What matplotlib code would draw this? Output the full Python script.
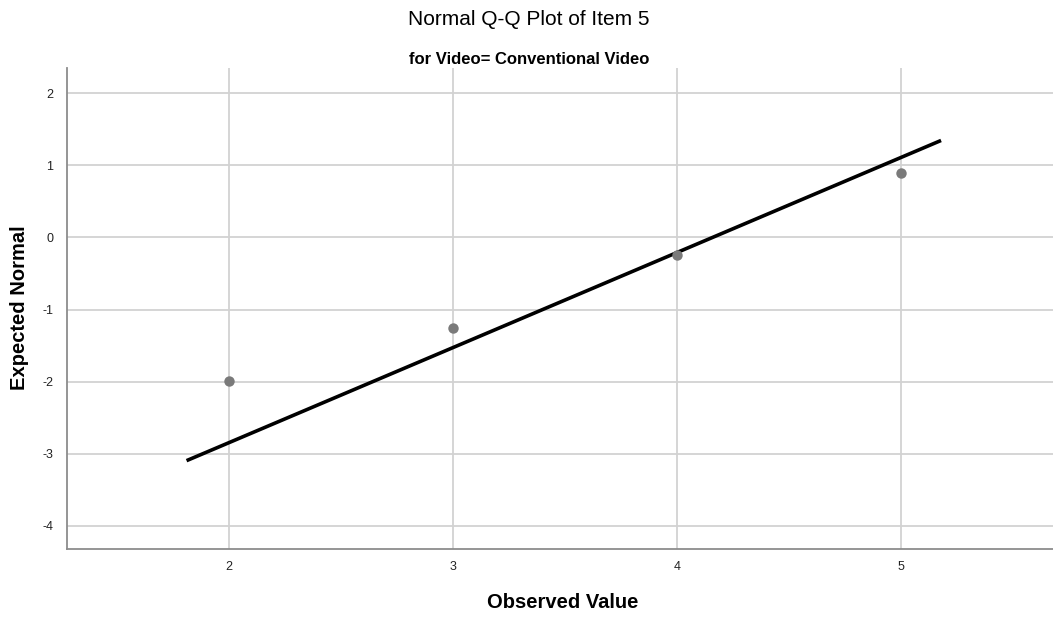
import matplotlib.pyplot as plt
import numpy as np

plt.rcParams['font.family'] = ['Liberation Sans', 'DejaVu Sans']
plt.rcParams['axes.unicode_minus'] = False

# observed values and their expected normal scores
observed = [2, 3, 4, 5]
expected = [-1.99, -1.26, -0.24, 0.89]

# reference line: standard normal fitted to the observed data
mean_obs = 4.159
sd_obs = 0.759
line_lo, line_hi = 1.81, 5.18

x_ticks = [2, 3, 4, 5]
y_ticks = [-4, -3, -2, -1, 0, 1, 2]

fig = plt.figure(figsize=(10.53, 6.17), dpi=100)
ax = fig.add_axes([67/1053, 1 - 549/617, 1 - 67/1053, (549 - 68)/617])

ax.grid(True, color='#d2d2d2', linewidth=1.3, zorder=0)
ax.set_axisbelow(True)

lx = np.array([line_lo, line_hi])
ax.plot(lx, (lx - mean_obs) / sd_obs, color='black', linewidth=2.6,
        solid_capstyle='butt', zorder=3)
ax.plot(observed, expected, 'o', color='#7a7a7a', markersize=7.5,
        markeredgewidth=0, zorder=4)

ax.set_xlim(1.276, 5.68)
ax.set_ylim(-4.32, 2.35)
ax.set_xticks(x_ticks)
ax.set_yticks(y_ticks)
ax.tick_params(length=0, labelsize=9, colors='#222222')
ax.tick_params(axis='x', pad=9)
ax.tick_params(axis='y', pad=10)

for s in ['top', 'right']:
    ax.spines[s].set_visible(False)
for s in ['left', 'bottom']:
    ax.spines[s].set_color('#8c8c8c')
    ax.spines[s].set_linewidth(1.3)

# axis titles placed in figure coordinates
fig.text(563/1053, 1 - 603/617, 'Observed Value', ha='center', va='center',
         fontsize=14.5, fontweight='bold')
fig.text(20/1053, 1 - 308/617, 'Expected Normal', ha='center', va='center',
         rotation=90, fontsize=14.5, fontweight='bold')

fig.text(529/1053, 1 - 19.5/617, 'Normal Q-Q Plot of Item 5', ha='center',
         va='center', fontsize=15)
fig.text(529/1053, 1 - 59/617, 'for Video= Conventional Video', ha='center',
         va='center', fontsize=12, fontweight='bold')

fig.savefig('out.png', dpi=100)
